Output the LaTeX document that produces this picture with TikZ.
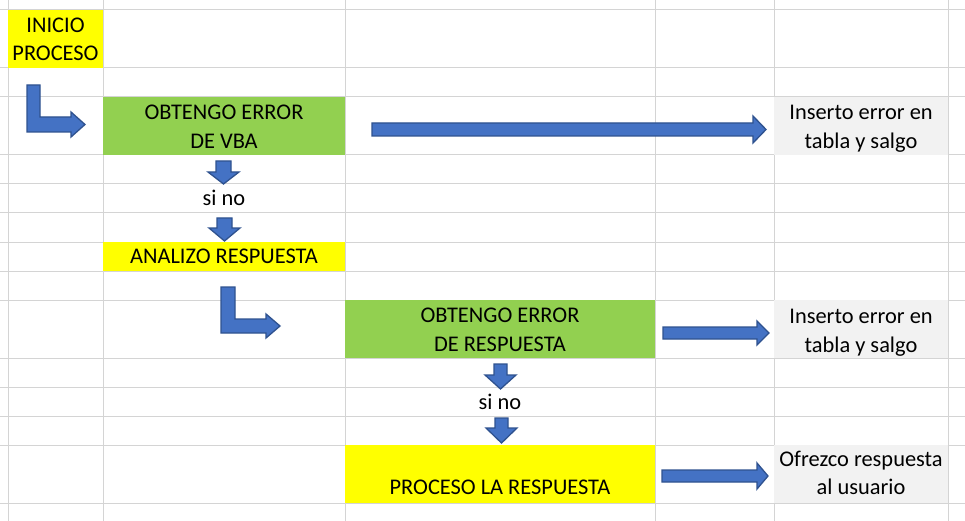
\documentclass[tikz,border=0pt]{standalone}
\usepackage{fontspec}
\setmainfont{Carlito}
\definecolor{gridc}{HTML}{D4D4D4}
\definecolor{yel}{HTML}{FFFF00}
\definecolor{grn}{HTML}{92D050}
\definecolor{gry}{HTML}{F2F2F2}
\definecolor{blu}{HTML}{4472C4}
\definecolor{bluedge}{HTML}{2F528F}
\begin{document}
\begin{tikzpicture}[x=1pt,y=-1pt,
  gridline/.style={draw=gridc, line width=1pt},
  box/.style={inner sep=0pt, outer sep=0pt, draw=none},
  txt/.style={inner sep=0pt, outer sep=0pt, anchor=base, font=\fontsize{22.4}{29}\selectfont},
  blk/.style={fill=blu, draw=bluedge, line width=1.3pt, line join=miter}]
\useasboundingbox (0,0) rectangle (965,521);
\fill[white] (0,0) rectangle (965,521);
% grid
\foreach \gx in {8,103,345,655,774,948} \draw[gridline] (\gx,0) -- (\gx,521);
\foreach \gy in {10,68,97,155,184,213,242,271,300,358,387,416,445,503} \draw[gridline] (0,\gy) -- (965,\gy);
% boxes
\node[box, fill=yel, minimum width=95pt, minimum height=58pt] (inicio) at (55.5,39) {};
\node[box, fill=grn, minimum width=242pt, minimum height=58pt] (vba) at (224,126) {};
\node[box, fill=gry, minimum width=174pt, minimum height=58pt] (ins1) at (861,126) {};
\node[box, fill=yel, minimum width=242pt, minimum height=29pt] (analizo) at (224,256.5) {};
\node[box, fill=grn, minimum width=310pt, minimum height=58pt] (resp) at (500,329) {};
\node[box, fill=gry, minimum width=174pt, minimum height=58pt] (ins2) at (861,329) {};
\node[box, fill=yel, minimum width=310pt, minimum height=58pt] (proc) at (500,474) {};
\node[box, fill=gry, minimum width=174pt, minimum height=58pt] (ofr) at (861,474) {};
% texts
\node[txt] (t1a) at (55.5,33) {INICIO};
\node[txt] (t1b) at (55.5,61) {PROCESO};
\node[txt] (t2a) at (224,120) {OBTENGO ERROR};
\node[txt] (t2b) at (224,149) {DE VBA};
\node[txt] (t3a) at (861,120) {Inserto error en};
\node[txt] (t3b) at (861,149) {tabla y salgo};
\node[txt] (sino1) at (224,206) {si no};
\node[txt] (t4) at (224,263) {ANALIZO RESPUESTA};
\node[txt] (t5a) at (500,322) {OBTENGO ERROR};
\node[txt] (t5b) at (500,351.5) {DE RESPUESTA};
\node[txt] (t6a) at (861,323) {Inserto error en};
\node[txt] (t6b) at (861,352) {tabla y salgo};
\node[txt] (sino2) at (500,409) {si no};
\node[txt] (t7) at (500,494) {PROCESO LA RESPUESTA};
\node[txt] (t8a) at (861,466) {Ofrezco respuesta};
\node[txt] (t8b) at (861,494) {al usuario};
% bent arrows
\draw[blk] (27,85) -- (40,85) -- (40,117) -- (71,117) -- (71,112) -- (85,124.5) -- (71,137) -- (71,132) -- (27,132) -- cycle;
\draw[blk] (221,287) -- (235,287) -- (235,319) -- (266,319) -- (266,314) -- (280,326) -- (266,338) -- (266,333) -- (221,333) -- cycle;
% down arrows
\draw[blk] (216,161) -- (231,161) -- (231,172) -- (239,172) -- (223.5,184) -- (208,172) -- (216,172) -- cycle;
\draw[blk] (217,218) -- (232,218) -- (232,228) -- (240,228) -- (224.5,241) -- (209,228) -- (217,228) -- cycle;
\draw[blk] (494,364) -- (507,364) -- (507,375) -- (516,375) -- (500.5,389) -- (485,375) -- (494,375) -- cycle;
\draw[blk] (495,418) -- (508,418) -- (508,428) -- (517,428) -- (501.5,443) -- (486,428) -- (495,428) -- cycle;
% right arrows
\draw[blk] (372,123) -- (753,123) -- (753,116) -- (766,129.5) -- (753,143) -- (753,136) -- (372,136) -- cycle;
\draw[blk] (663,327) -- (757,327) -- (757,321) -- (769,333) -- (757,345) -- (757,339) -- (663,339) -- cycle;
\draw[blk] (662,470) -- (757,470) -- (757,463) -- (768,476) -- (757,489) -- (757,482) -- (662,482) -- cycle;
\end{tikzpicture}
\end{document}
